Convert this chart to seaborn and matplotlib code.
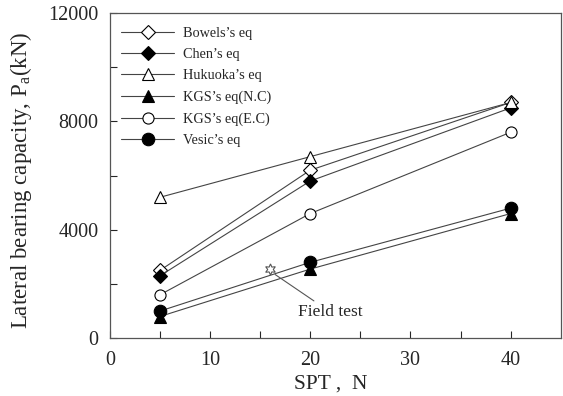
import matplotlib
matplotlib.use("Agg")
import matplotlib.pyplot as plt
import seaborn as sns
import pandas as pd

spt = [5, 20, 40]
bowels = [2500, 6200, 8700]
chen = [2300, 5800, 8500]
hukuoka = [5200, 6700, 8700]
kgs_nc = [800, 2550, 4600]
kgs_ec = [1600, 4600, 7600]
vesic = [1000, 2800, 4800]
field_x = [16]
field_y = [2550]

names = ["Bowels\u2019s eq", "Chen\u2019s eq", "Hukuoka\u2019s eq",
         "KGS\u2019s eq(N.C)", "KGS\u2019s eq(E.C)", "Vesic\u2019s eq"]
series = [bowels, chen, hukuoka, kgs_nc, kgs_ec, vesic]
markers = ["D", "D", "^", "^", "o", "o"]
filled = [False, True, False, True, False, True]
sizes = [7, 7, 8, 8, 8, 9]

sns.set_style("white")
plt.rcParams["font.family"] = ["Liberation Serif", "DejaVu Serif"]
plt.rcParams["mathtext.fontset"] = "custom"
plt.rcParams["mathtext.rm"] = "Liberation Serif"

fig = plt.figure(figsize=(5.63, 3.96), dpi=100)
ax = fig.add_axes([0.195, 0.146, 0.801, 0.821])

for name, vals, mk, fl, ms in zip(names, series, markers, filled, sizes):
    df = pd.DataFrame({"x": spt, "y": vals})
    sns.lineplot(data=df, x="x", y="y", ax=ax, color="#444444", lw=0.8,
                 marker=mk, markersize=ms,
                 markerfacecolor="black" if fl else "white",
                 markeredgecolor="black", markeredgewidth=0.8,
                 label=name)

ax.plot(field_x, field_y, marker=(6, 1, 0), markersize=8, color="none",
        markerfacecolor="white", markeredgecolor="#555555", markeredgewidth=0.8)
ax.annotate("Field test", xy=(field_x[0] + 0.5, field_y[0] - 200),
            xytext=(18.8, 960), fontsize=12.5, va="center", ha="left",
            arrowprops=dict(arrowstyle="-", color="#555555", lw=0.8,
                            shrinkA=0, shrinkB=0))

ax.set_xlim(0, 45)
ax.set_ylim(0, 12000)
ax.set_xticks([0, 10, 20, 30, 40])
ax.set_xticks([5, 15, 25, 35], minor=True)
ax.set_yticks([0, 4000, 8000, 12000])
ax.set_yticks([2000, 6000, 10000], minor=True)
ax.tick_params(which="both", direction="in", length=5, width=0.8, labelsize=14.5,
               bottom=True, left=True, top=False, right=False)
ax.tick_params(axis="x", pad=9)
ax.tick_params(axis="y", pad=8)
for s in ax.spines.values():
    s.set_color("#555555")
    s.set_linewidth(0.9)

ax.set_xlabel("SPT ,  N", fontsize=15.5)
ax.xaxis.set_label_coords(0.49, -0.112)
ax.set_ylabel("Lateral bearing capacity, P$_{\\mathrm{a}}$(kN)", fontsize=16.5)
ax.yaxis.set_label_coords(-0.168, 0.485)

leg = ax.legend(loc="upper left", frameon=False, fontsize=10.3, handlelength=3.7,
                labelspacing=0.58, borderaxespad=0.2, handletextpad=0.6,
                bbox_to_anchor=(0.006, 0.985))

fig.savefig("out.png", dpi=100)
